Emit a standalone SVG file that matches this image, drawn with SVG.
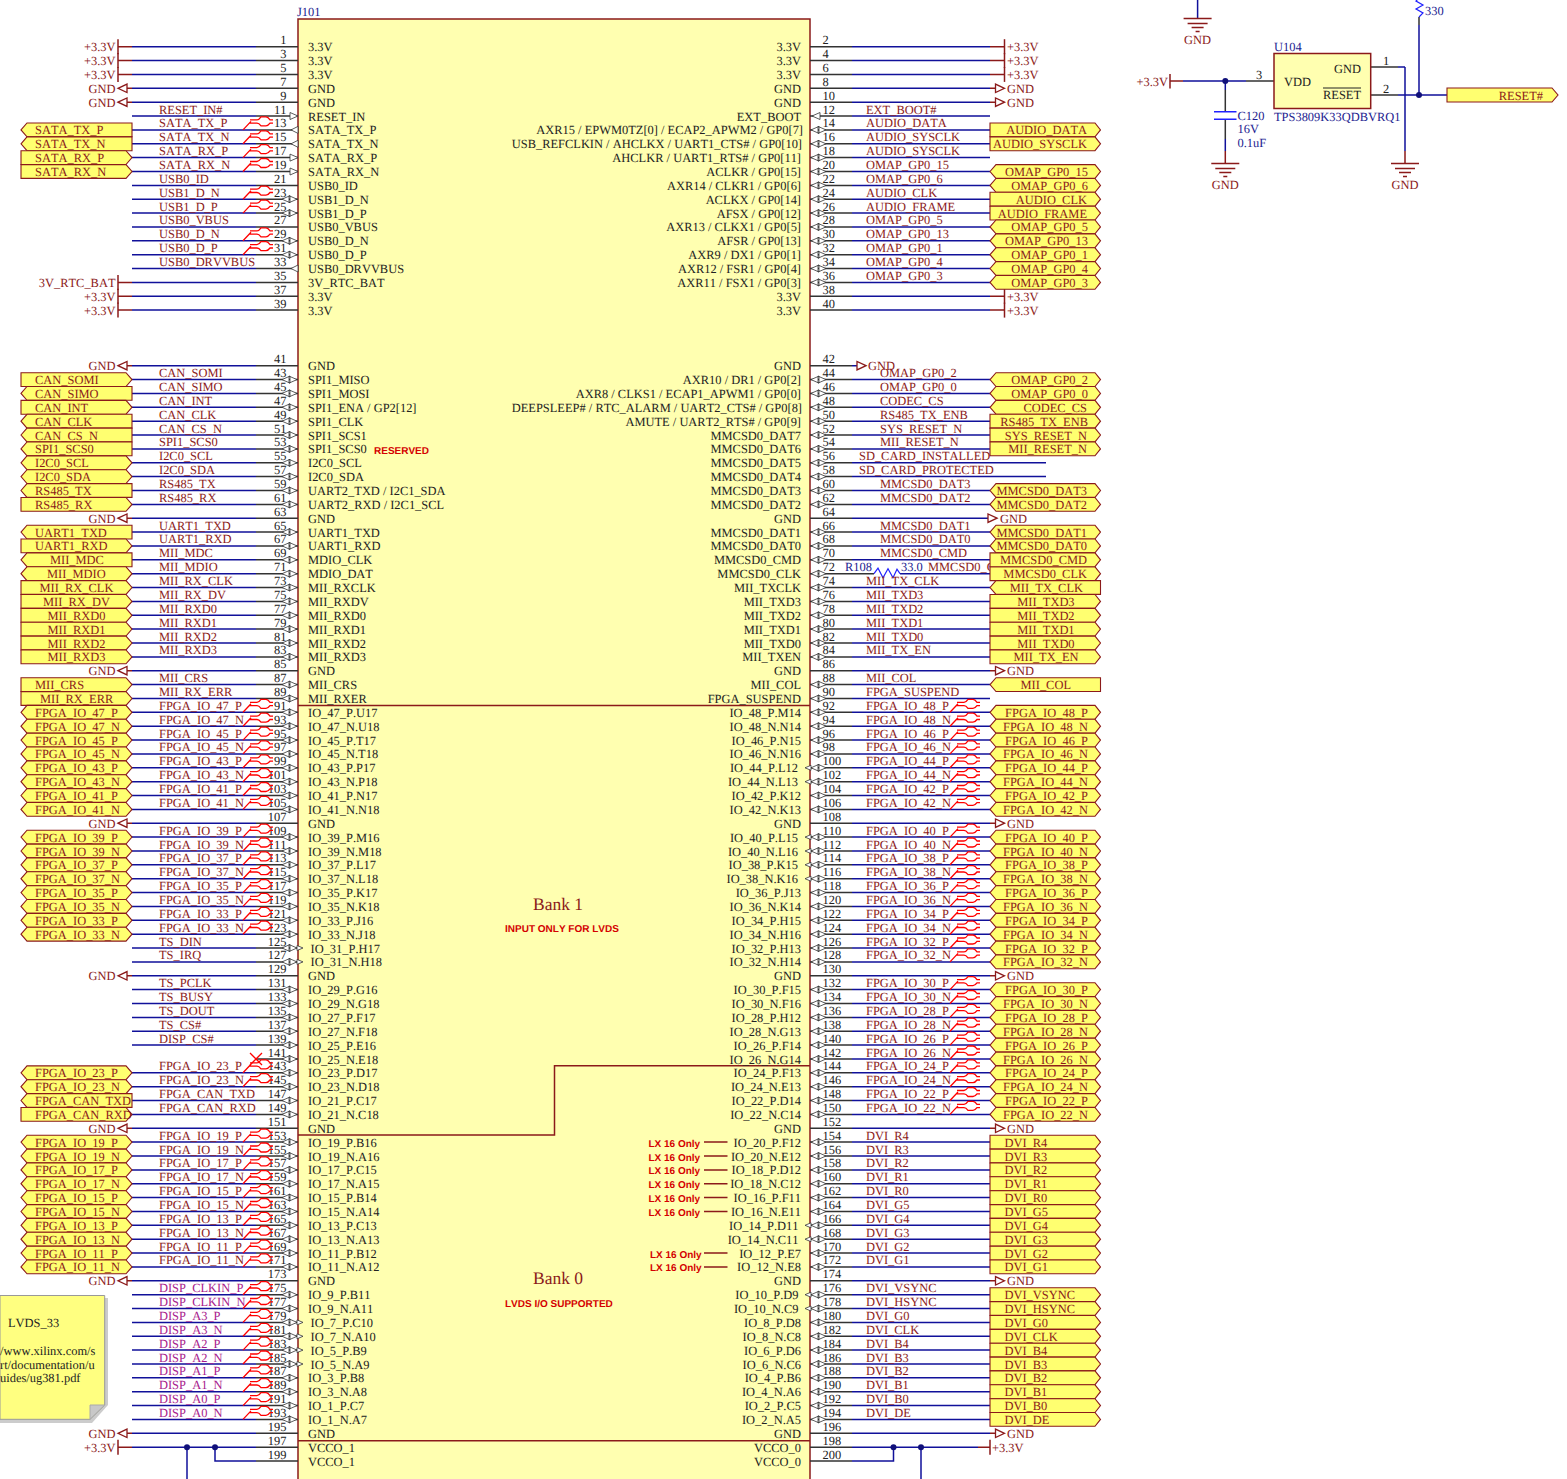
<svg xmlns="http://www.w3.org/2000/svg" width="1567" height="1479" viewBox="0 0 1567 1479">
<style>
text{font-family:"Liberation Serif","Times New Roman",serif;font-size:12.45px;fill:#222;font-kerning:none;text-rendering:geometricPrecision}
.e{text-anchor:end}
.l{fill:#8b1a1a}
.m{fill:#8b1a1a;text-anchor:end}
.k{fill:#a8198c}
.n{fill:#1c1c90}
.s{font-family:"Liberation Sans",Arial,sans-serif;font-weight:bold;font-size:10px;fill:#d40000}
.w{fill:none;stroke:#10109a;stroke-width:1.5}
.t{fill:none;stroke:#333;stroke-width:1.5}
.r{fill:none;stroke:#8b1a1a;stroke-width:1.5}
.f{fill:#ffff70;stroke:#8b1a1a;stroke-width:1.1}
.z{fill:#fff;stroke:#333;stroke-width:.8}
.y{fill:#fff;stroke:#8b1a1a;stroke-width:1.3}
.x{fill:none;stroke:#ff0000;stroke-width:1.3}
.j{fill:#10107a}
</style>
<defs>
<polygon id="a" class="f" points="21,-4.5 27,-11.4 132,-11.4 132,2.4 27,2.4"/>
<polygon id="b" class="f" points="21,-11.4 126,-11.4 132,-4.5 126,2.4 21,2.4"/>
<polygon id="h" class="f" points="21,-4.5 27,-11.4 126,-11.4 132,-4.5 126,2.4 27,2.4"/>
<polygon id="A" class="f" points="990,-4.5 996,-11.4 1100.5,-11.4 1100.5,2.4 996,2.4"/>
<polygon id="B" class="f" points="990,-11.4 1095,-11.4 1100.5,-4.5 1095,2.4 990,2.4"/>
<polygon id="H" class="f" points="990,-4.5 996,-11.4 1095,-11.4 1100.5,-4.5 1095,2.4 996,2.4"/>
<path id="c" class="z" d="M282-4.5L290-8V-1ZM297-4.5L289-8V-1Z"/>
<path id="i" class="z" d="M298-4.5L290-8V-1Z"/>
<path id="o" class="z" d="M291-4.5L298-8V-1Z"/>
<path id="C" class="z" d="M811-4.5L819-8V-1ZM826-4.5L818-8V-1Z"/>
<path id="O" class="z" d="M812-4.5L820-8V-1Z"/>
<path id="q" class="z" d="M303-4.5L297-7V-2Z"/>
<path id="u" class="z" d="M805-4.5L811-7V-2Z"/>
<path id="d" class="x" d="M243-4.5L251-13M250-14.5H257Q259-14.5 261-17.5H266Q268-17.5 270-14.5H273M249-11.2H257Q259-11.2 261-8.5H266Q268-8.5 270-11.2H273"/>
<path id="v" class="r" d="M118-12V3"/>
<polygon id="g" class="y" points="118,-4.5 127,-8.7 127,-.3"/>
<polygon id="G" class="y" points="1004.5,-4.5 995.5,-8.7 995.5,-.3"/>
<path id="E" class="r" d="M-14 0H14M-10 5H10M-6 9H6M-2 13H2"/>
</defs>
<g id="J101-body">
<rect x="298" y="19" width="512" height="1470" fill="#ffffb0" stroke="#8b1a1a" stroke-width="1.5"/>
<path class="r" d="M298 705.4H810M298 1135H554.5V1065.7H810M298 1440.7H810"/>
<text class="n" x="297" y="16">J101</text>
<text class="l" x="533" y="910" style="font-size:17.5px">Bank 1</text>
<text class="s" x="505" y="932">INPUT ONLY FOR LVDS</text>
<text class="l" x="533" y="1284" style="font-size:17.5px">Bank 0</text>
<text class="s" x="505" y="1307">LVDS I/O SUPPORTED</text>
<text class="s" x="374" y="454">RESERVED</text>
</g>
<g id="connectors">
<path class="t" d="M256 46.7H298M256 60.6H298M256 74.4H298M256 88.3H298M256 102.2H298M256 116H298M256 129.9H298M256 143.8H298M256 157.6H298M256 171.5H298M256 185.4H298M256 199.2H298M256 213.1H298M256 226.9H298M256 240.8H298M256 254.7H298M256 268.5H298M256 282.4H298M256 296.3H298M256 310.1H298M256 365.7H298M256 379.6H298M256 393.4H298M256 407.3H298M256 421.2H298M256 435H298M256 448.9H298M256 462.8H298M256 476.6H298M256 490.5H298M256 504.4H298M256 518.2H298M256 532.1H298M256 545.9H298M256 559.8H298M256 573.7H298M256 587.5H298M256 601.4H298M256 615.3H298M256 629.1H298M256 643H298M256 656.9H298M256 670.7H298M256 684.6H298M256 698.5H298M256 712.3H298M256 726.2H298M256 740.1H298M256 753.9H298M256 767.8H298M256 781.7H298M256 795.5H298M256 809.4H298M256 823.2H298M256 837.1H298M256 851H298M256 864.8H298M256 878.7H298M256 892.6H298M256 906.4H298M256 920.3H298M256 934.2H298M256 948H298M256 961.9H298M256 975.8H298M256 989.6H298M256 1003.5H298M256 1017.4H298M256 1031.2H298M256 1045.1H298M256 1059H298M256 1072.8H298M256 1086.7H298M256 1100.5H298M256 1114.4H298M256 1128.3H298M256 1142.1H298M256 1156H298M256 1169.9H298M256 1183.7H298M256 1197.6H298M256 1211.5H298M256 1225.3H298M256 1239.2H298M256 1253.1H298M256 1266.9H298M256 1280.8H298M256 1294.7H298M256 1308.5H298M256 1322.4H298M256 1336.3H298M256 1350.1H298M256 1364H298M256 1377.8H298M256 1391.7H298M256 1405.6H298M256 1419.4H298M256 1433.3H298M256 1447.2H298M256 1461H298"/>
<path class="w" d="M132 46.7H256M132 60.6H256M132 74.4H256M132 88.3H256M132 102.2H256M132 116H256M132 129.9H256M132 143.8H256M132 157.6H256M132 171.5H256M132 185.4H256M132 199.2H256M132 213.1H256M132 226.9H256M132 240.8H256M132 254.7H256M132 268.5H256M132 282.4H256M132 296.3H256M132 310.1H256M132 365.7H256M132 379.6H256M132 393.4H256M132 407.3H256M132 421.2H256M132 435H256M132 448.9H256M132 462.8H256M132 476.6H256M132 490.5H256M132 504.4H256M132 518.2H256M132 532.1H256M132 545.9H256M132 559.8H256M132 573.7H256M132 587.5H256M132 601.4H256M132 615.3H256M132 629.1H256M132 643H256M132 656.9H256M132 670.7H256M132 684.6H256M132 698.5H256M132 712.3H256M132 726.2H256M132 740.1H256M132 753.9H256M132 767.8H256M132 781.7H256M132 795.5H256M132 809.4H256M132 823.2H256M132 837.1H256M132 851H256M132 864.8H256M132 878.7H256M132 892.6H256M132 906.4H256M132 920.3H256M132 934.2H256M132 948H256M132 961.9H256M132 975.8H256M132 989.6H256M132 1003.5H256M132 1017.4H256M132 1031.2H256M132 1045.1H256M132 1072.8H256M132 1086.7H256M132 1100.5H256M132 1114.4H256M132 1128.3H256M132 1142.1H256M132 1156H256M132 1169.9H256M132 1183.7H256M132 1197.6H256M132 1211.5H256M132 1225.3H256M132 1239.2H256M132 1253.1H256M132 1266.9H256M132 1280.8H256M132 1294.7H256M132 1308.5H256M132 1322.4H256M132 1336.3H256M132 1350.1H256M132 1364H256M132 1377.8H256M132 1391.7H256M132 1405.6H256M132 1419.4H256M132 1433.3H256M132 1447.2H256M215 1447.2V1461H256M187 1447.2V1479"/>
<path class="t" d="M810 46.7H852M810 60.6H852M810 74.4H852M810 88.3H852M810 102.2H852M810 116H852M810 129.9H852M810 143.8H852M810 157.6H852M810 171.5H852M810 185.4H852M810 199.2H852M810 213.1H852M810 226.9H852M810 240.8H852M810 254.7H852M810 268.5H852M810 282.4H852M810 296.3H852M810 310.1H852M810 365.7H852M810 379.6H852M810 393.4H852M810 407.3H852M810 421.2H852M810 435H852M810 448.9H852M810 462.8H852M810 476.6H852M810 490.5H852M810 504.4H852M810 518.2H852M810 532.1H852M810 545.9H852M810 559.8H852M810 573.7H874M810 587.5H852M810 601.4H852M810 615.3H852M810 629.1H852M810 643H852M810 656.9H852M810 670.7H852M810 684.6H852M810 698.5H852M810 712.3H852M810 726.2H852M810 740.1H852M810 753.9H852M810 767.8H852M810 781.7H852M810 795.5H852M810 809.4H852M810 823.2H852M810 837.1H852M810 851H852M810 864.8H852M810 878.7H852M810 892.6H852M810 906.4H852M810 920.3H852M810 934.2H852M810 948H852M810 961.9H852M810 975.8H852M810 989.6H852M810 1003.5H852M810 1017.4H852M810 1031.2H852M810 1045.1H852M810 1059H852M810 1072.8H852M810 1086.7H852M810 1100.5H852M810 1114.4H852M810 1128.3H852M810 1142.1H852M810 1156H852M810 1169.9H852M810 1183.7H852M810 1197.6H852M810 1211.5H852M810 1225.3H852M810 1239.2H852M810 1253.1H852M810 1266.9H852M810 1280.8H852M810 1294.7H852M810 1308.5H852M810 1322.4H852M810 1336.3H852M810 1350.1H852M810 1364H852M810 1377.8H852M810 1391.7H852M810 1405.6H852M810 1419.4H852M810 1433.3H852M810 1447.2H852M810 1461H852"/>
<path class="w" d="M852 46.7H990M852 60.6H990M852 74.4H990M852 88.3H990M852 102.2H990M852 116H990M852 129.9H990M852 143.8H990M852 157.6H990M852 171.5H990M852 185.4H990M852 199.2H990M852 213.1H990M852 226.9H990M852 240.8H990M852 254.7H990M852 268.5H990M852 282.4H990M852 296.3H990M852 310.1H990M852 365.7H857M852 379.6H990M852 393.4H990M852 407.3H990M852 421.2H990M852 435H990M852 448.9H990M852 462.8H1046M852 476.6H1046M852 490.5H990M852 504.4H990M852 518.2H989M852 532.1H990M852 545.9H990M852 559.8H990M900 573.7H990M852 587.5H990M852 601.4H990M852 615.3H990M852 629.1H990M852 643H990M852 656.9H990M852 670.7H990M852 684.6H990M852 698.5H990M852 712.3H990M852 726.2H990M852 740.1H990M852 753.9H990M852 767.8H990M852 781.7H990M852 795.5H990M852 809.4H990M852 823.2H990M852 837.1H990M852 851H990M852 864.8H990M852 878.7H990M852 892.6H990M852 906.4H990M852 920.3H990M852 934.2H990M852 948H990M852 961.9H990M852 975.8H990M852 989.6H990M852 1003.5H990M852 1017.4H990M852 1031.2H990M852 1045.1H990M852 1059H990M852 1072.8H990M852 1086.7H990M852 1100.5H990M852 1114.4H990M852 1128.3H990M852 1142.1H990M852 1156H990M852 1169.9H990M852 1183.7H990M852 1197.6H990M852 1211.5H990M852 1225.3H990M852 1239.2H990M852 1253.1H990M852 1266.9H990M852 1280.8H990M852 1294.7H990M852 1308.5H990M852 1322.4H990M852 1336.3H990M852 1350.1H990M852 1364H990M852 1377.8H990M852 1391.7H990M852 1405.6H990M852 1419.4H990M852 1433.3H990M852 1447.2H978M852 1461H893.5V1447.2M921 1447.2V1479"/>
<path class="r" d="M118 46.7H132M118 60.6H132M118 74.4H132M118 282.4H132M118 296.3H132M118 310.1H132M118 1447.2H132M127 88.3H132M127 102.2H132M127 365.7H132M127 518.2H132M127 670.7H132M127 823.2H132M127 975.8H132M127 1128.3H132M127 1280.8H132M127 1433.3H132M990 46.7H1004.5M990 60.6H1004.5M990 74.4H1004.5M990 296.3H1004.5M990 310.1H1004.5M990 88.3H995.5M990 102.2H995.5M990 670.7H995.5M990 823.2H995.5M990 975.8H995.5M990 1128.3H995.5M990 1280.8H995.5M990 1433.3H995.5M978 1447.2H990"/>
<circle class="j" cx="187" cy="1447.2" r="3"/><circle class="j" cx="215" cy="1447.2" r="3"/><circle class="j" cx="893.5" cy="1447.2" r="3"/><circle class="j" cx="921" cy="1447.2" r="3"/>
<path class="w" d="M1183 81H1246M1225.3 81V90M1225.3 139V151M1405 67V151M1398 67H1405M1398 95H1447M1419 95V25M1197.6 0V18"/>
<path class="t" d="M1246 81H1274M1225.3 90V112M1225.3 119V139M1371 67H1398M1371 95H1398M1419 25V17"/>
<path class="r" d="M1170 81H1183M1225.3 151V163M1405 151V163"/>
<circle class="j" cx="1225.3" cy="81" r="3"/><circle class="j" cx="1419" cy="95" r="3"/>
</g>
<g id="J101">
<g transform="translate(0 51.2)"><text class="e" x="286.5" y="-7">1</text><text x="308">3.3V</text><text x="822.5" y="-7">2</text><text class="e" x="801">3.3V</text></g>
<g transform="translate(0 65.1)"><text class="e" x="286.5" y="-7">3</text><text x="308">3.3V</text><text x="822.5" y="-7">4</text><text class="e" x="801">3.3V</text></g>
<g transform="translate(0 78.9)"><text class="e" x="286.5" y="-7">5</text><text x="308">3.3V</text><text x="822.5" y="-7">6</text><text class="e" x="801">3.3V</text></g>
<g transform="translate(0 92.8)"><text class="e" x="286.5" y="-7">7</text><text x="308">GND</text><text x="822.5" y="-7">8</text><text class="e" x="801">GND</text></g>
<g transform="translate(0 106.7)"><text class="e" x="286.5" y="-7">9</text><text x="308">GND</text><text x="822.5" y="-7">10</text><text class="e" x="801">GND</text></g>
<g transform="translate(0 120.5)"><use href="#i"/><text class="e" x="286.5" y="-7">11</text><text x="308">RESET_IN</text><use href="#O"/><text x="822.5" y="-7">12</text><text class="e" x="801">EXT_BOOT</text></g>
<g transform="translate(0 134.4)"><use href="#o"/><text class="e" x="286.5" y="-7">13</text><text x="308">SATA_TX_P</text><use href="#C"/><text x="822.5" y="-7">14</text><text class="e" x="803">AXR15 / EPWM0TZ[0] / ECAP2_APWM2 / GP0[7]</text></g>
<g transform="translate(0 148.3)"><use href="#o"/><text class="e" x="286.5" y="-7">15</text><text x="308">SATA_TX_N</text><use href="#C"/><text x="822.5" y="-7">16</text><text class="e" x="802">USB_REFCLKIN / AHCLKX / UART1_CTS# / GP0[10]</text></g>
<g transform="translate(0 162.1)"><use href="#i"/><text class="e" x="286.5" y="-7">17</text><text x="308">SATA_RX_P</text><use href="#C"/><text x="822.5" y="-7">18</text><text class="e" x="801">AHCLKR / UART1_RTS# / GP0[11]</text></g>
<g transform="translate(0 176)"><use href="#i"/><text class="e" x="286.5" y="-7">19</text><text x="308">SATA_RX_N</text><use href="#C"/><text x="822.5" y="-7">20</text><text class="e" x="801">ACLKR / GP0[15]</text></g>
<g transform="translate(0 189.9)"><text class="e" x="286.5" y="-7">21</text><text x="308">USB0_ID</text><use href="#C"/><text x="822.5" y="-7">22</text><text class="e" x="801">AXR14 / CLKR1 / GP0[6]</text></g>
<g transform="translate(0 203.7)"><use href="#c"/><text class="e" x="286.5" y="-7">23</text><text x="308">USB1_D_N</text><use href="#C"/><text x="822.5" y="-7">24</text><text class="e" x="801">ACLKX / GP0[14]</text></g>
<g transform="translate(0 217.6)"><use href="#c"/><text class="e" x="286.5" y="-7">25</text><text x="308">USB1_D_P</text><use href="#C"/><text x="822.5" y="-7">26</text><text class="e" x="801">AFSX / GP0[12]</text></g>
<g transform="translate(0 231.4)"><text class="e" x="286.5" y="-7">27</text><text x="308">USB0_VBUS</text><use href="#C"/><text x="822.5" y="-7">28</text><text class="e" x="801">AXR13 / CLKX1 / GP0[5]</text></g>
<g transform="translate(0 245.3)"><use href="#c"/><text class="e" x="286.5" y="-7">29</text><text x="308">USB0_D_N</text><use href="#C"/><text x="822.5" y="-7">30</text><text class="e" x="801">AFSR / GP0[13]</text></g>
<g transform="translate(0 259.2)"><use href="#c"/><text class="e" x="286.5" y="-7">31</text><text x="308">USB0_D_P</text><use href="#C"/><text x="822.5" y="-7">32</text><text class="e" x="801">AXR9 / DX1 / GP0[1]</text></g>
<g transform="translate(0 273)"><use href="#o"/><text class="e" x="286.5" y="-7">33</text><text x="308">USB0_DRVVBUS</text><use href="#C"/><text x="822.5" y="-7">34</text><text class="e" x="801">AXR12 / FSR1 / GP0[4]</text></g>
<g transform="translate(0 286.9)"><text class="e" x="286.5" y="-7">35</text><text x="308">3V_RTC_BAT</text><use href="#C"/><text x="822.5" y="-7">36</text><text class="e" x="801">AXR11 / FSX1 / GP0[3]</text></g>
<g transform="translate(0 300.8)"><text class="e" x="286.5" y="-7">37</text><text x="308">3.3V</text><text x="822.5" y="-7">38</text><text class="e" x="801">3.3V</text></g>
<g transform="translate(0 314.6)"><text class="e" x="286.5" y="-7">39</text><text x="308">3.3V</text><text x="822.5" y="-7">40</text><text class="e" x="801">3.3V</text></g>
<g transform="translate(0 370.2)"><text class="e" x="286.5" y="-7">41</text><text x="308">GND</text><text x="822.5" y="-7">42</text><text class="e" x="801">GND</text></g>
<g transform="translate(0 384.1)"><use href="#c"/><text class="e" x="286.5" y="-7">43</text><text x="308">SPI1_MISO</text><use href="#C"/><text x="822.5" y="-7">44</text><text class="e" x="801">AXR10 / DR1 / GP0[2]</text></g>
<g transform="translate(0 397.9)"><use href="#c"/><text class="e" x="286.5" y="-7">45</text><text x="308">SPI1_MOSI</text><use href="#C"/><text x="822.5" y="-7">46</text><text class="e" x="801">AXR8 / CLKS1 / ECAP1_APWM1 / GP0[0]</text></g>
<g transform="translate(0 411.8)"><use href="#c"/><text class="e" x="286.5" y="-7">47</text><text x="308">SPI1_ENA / GP2[12]</text><use href="#C"/><text x="822.5" y="-7">48</text><text class="e" x="802">DEEPSLEEP# / RTC_ALARM / UART2_CTS# / GP0[8]</text></g>
<g transform="translate(0 425.7)"><use href="#c"/><text class="e" x="286.5" y="-7">49</text><text x="308">SPI1_CLK</text><use href="#C"/><text x="822.5" y="-7">50</text><text class="e" x="801">AMUTE / UART2_RTS# / GP0[9]</text></g>
<g transform="translate(0 439.5)"><use href="#c"/><text class="e" x="286.5" y="-7">51</text><text x="308">SPI1_SCS1</text><use href="#C"/><text x="822.5" y="-7">52</text><text class="e" x="801">MMCSD0_DAT7</text></g>
<g transform="translate(0 453.4)"><use href="#c"/><text class="e" x="286.5" y="-7">53</text><text x="308">SPI1_SCS0</text><use href="#C"/><text x="822.5" y="-7">54</text><text class="e" x="801">MMCSD0_DAT6</text></g>
<g transform="translate(0 467.3)"><use href="#c"/><text class="e" x="286.5" y="-7">55</text><text x="308">I2C0_SCL</text><use href="#C"/><text x="822.5" y="-7">56</text><text class="e" x="801">MMCSD0_DAT5</text></g>
<g transform="translate(0 481.1)"><use href="#c"/><text class="e" x="286.5" y="-7">57</text><text x="308">I2C0_SDA</text><use href="#C"/><text x="822.5" y="-7">58</text><text class="e" x="801">MMCSD0_DAT4</text></g>
<g transform="translate(0 495)"><use href="#c"/><text class="e" x="286.5" y="-7">59</text><text x="308">UART2_TXD / I2C1_SDA</text><use href="#C"/><text x="822.5" y="-7">60</text><text class="e" x="801">MMCSD0_DAT3</text></g>
<g transform="translate(0 508.9)"><use href="#c"/><text class="e" x="286.5" y="-7">61</text><text x="308">UART2_RXD / I2C1_SCL</text><use href="#C"/><text x="822.5" y="-7">62</text><text class="e" x="801">MMCSD0_DAT2</text></g>
<g transform="translate(0 522.7)"><text class="e" x="286.5" y="-7">63</text><text x="308">GND</text><text x="822.5" y="-7">64</text><text class="e" x="801">GND</text></g>
<g transform="translate(0 536.6)"><use href="#c"/><text class="e" x="286.5" y="-7">65</text><text x="308">UART1_TXD</text><use href="#C"/><text x="822.5" y="-7">66</text><text class="e" x="801">MMCSD0_DAT1</text></g>
<g transform="translate(0 550.4)"><use href="#c"/><text class="e" x="286.5" y="-7">67</text><text x="308">UART1_RXD</text><use href="#C"/><text x="822.5" y="-7">68</text><text class="e" x="801">MMCSD0_DAT0</text></g>
<g transform="translate(0 564.3)"><use href="#c"/><text class="e" x="286.5" y="-7">69</text><text x="308">MDIO_CLK</text><use href="#C"/><text x="822.5" y="-7">70</text><text class="e" x="801">MMCSD0_CMD</text></g>
<g transform="translate(0 578.2)"><use href="#c"/><text class="e" x="286.5" y="-7">71</text><text x="308">MDIO_DAT</text><use href="#C"/><text x="822.5" y="-7">72</text><text class="e" x="801">MMCSD0_CLK</text></g>
<g transform="translate(0 592)"><use href="#c"/><text class="e" x="286.5" y="-7">73</text><text x="308">MII_RXCLK</text><use href="#C"/><text x="822.5" y="-7">74</text><text class="e" x="801">MII_TXCLK</text></g>
<g transform="translate(0 605.9)"><use href="#c"/><text class="e" x="286.5" y="-7">75</text><text x="308">MII_RXDV</text><use href="#C"/><text x="822.5" y="-7">76</text><text class="e" x="801">MII_TXD3</text></g>
<g transform="translate(0 619.8)"><use href="#c"/><text class="e" x="286.5" y="-7">77</text><text x="308">MII_RXD0</text><use href="#C"/><text x="822.5" y="-7">78</text><text class="e" x="801">MII_TXD2</text></g>
<g transform="translate(0 633.6)"><use href="#c"/><text class="e" x="286.5" y="-7">79</text><text x="308">MII_RXD1</text><use href="#C"/><text x="822.5" y="-7">80</text><text class="e" x="801">MII_TXD1</text></g>
<g transform="translate(0 647.5)"><use href="#c"/><text class="e" x="286.5" y="-7">81</text><text x="308">MII_RXD2</text><use href="#C"/><text x="822.5" y="-7">82</text><text class="e" x="801">MII_TXD0</text></g>
<g transform="translate(0 661.4)"><use href="#c"/><text class="e" x="286.5" y="-7">83</text><text x="308">MII_RXD3</text><use href="#C"/><text x="822.5" y="-7">84</text><text class="e" x="801">MII_TXEN</text></g>
<g transform="translate(0 675.2)"><text class="e" x="286.5" y="-7">85</text><text x="308">GND</text><text x="822.5" y="-7">86</text><text class="e" x="801">GND</text></g>
<g transform="translate(0 689.1)"><use href="#c"/><text class="e" x="286.5" y="-7">87</text><text x="308">MII_CRS</text><use href="#C"/><text x="822.5" y="-7">88</text><text class="e" x="801">MII_COL</text></g>
<g transform="translate(0 703)"><use href="#c"/><text class="e" x="286.5" y="-7">89</text><text x="308">MII_RXER</text><use href="#C"/><text x="822.5" y="-7">90</text><text class="e" x="801">FPGA_SUSPEND</text></g>
<g transform="translate(0 716.8)"><use href="#c"/><text class="e" x="286.5" y="-7">91</text><text x="308">IO_47_P.U17</text><use href="#C"/><text x="822.5" y="-7">92</text><text class="e" x="801">IO_48_P.M14</text></g>
<g transform="translate(0 730.7)"><use href="#c"/><text class="e" x="286.5" y="-7">93</text><text x="308">IO_47_N.U18</text><use href="#C"/><text x="822.5" y="-7">94</text><text class="e" x="801">IO_48_N.N14</text></g>
<g transform="translate(0 744.6)"><use href="#c"/><text class="e" x="286.5" y="-7">95</text><text x="308">IO_45_P.T17</text><use href="#C"/><text x="822.5" y="-7">96</text><text class="e" x="801">IO_46_P.N15</text></g>
<g transform="translate(0 758.4)"><use href="#c"/><text class="e" x="286.5" y="-7">97</text><text x="308">IO_45_N.T18</text><use href="#C"/><text x="822.5" y="-7">98</text><text class="e" x="801">IO_46_N.N16</text></g>
<g transform="translate(0 772.3)"><use href="#c"/><text class="e" x="286.5" y="-7">99</text><text x="308">IO_43_P.P17</text><use href="#C"/><use href="#u"/><text x="822.5" y="-7">100</text><text class="e" x="798">IO_44_P.L12</text></g>
<g transform="translate(0 786.2)"><use href="#c"/><text class="e" x="286.5" y="-7">101</text><text x="308">IO_43_N.P18</text><use href="#C"/><use href="#u"/><text x="822.5" y="-7">102</text><text class="e" x="798">IO_44_N.L13</text></g>
<g transform="translate(0 800)"><use href="#c"/><text class="e" x="286.5" y="-7">103</text><text x="308">IO_41_P.N17</text><use href="#C"/><text x="822.5" y="-7">104</text><text class="e" x="801">IO_42_P.K12</text></g>
<g transform="translate(0 813.9)"><use href="#c"/><text class="e" x="286.5" y="-7">105</text><text x="308">IO_41_N.N18</text><use href="#C"/><text x="822.5" y="-7">106</text><text class="e" x="801">IO_42_N.K13</text></g>
<g transform="translate(0 827.7)"><text class="e" x="286.5" y="-7">107</text><text x="308">GND</text><text x="822.5" y="-7">108</text><text class="e" x="801">GND</text></g>
<g transform="translate(0 841.6)"><use href="#c"/><text class="e" x="286.5" y="-7">109</text><text x="308">IO_39_P.M16</text><use href="#C"/><use href="#u"/><text x="822.5" y="-7">110</text><text class="e" x="798">IO_40_P.L15</text></g>
<g transform="translate(0 855.5)"><use href="#c"/><text class="e" x="286.5" y="-7">111</text><text x="308">IO_39_N.M18</text><use href="#C"/><use href="#u"/><text x="822.5" y="-7">112</text><text class="e" x="798">IO_40_N.L16</text></g>
<g transform="translate(0 869.3)"><use href="#c"/><text class="e" x="286.5" y="-7">113</text><text x="308">IO_37_P.L17</text><use href="#C"/><use href="#u"/><text x="822.5" y="-7">114</text><text class="e" x="798">IO_38_P.K15</text></g>
<g transform="translate(0 883.2)"><use href="#c"/><text class="e" x="286.5" y="-7">115</text><text x="308">IO_37_N.L18</text><use href="#C"/><use href="#u"/><text x="822.5" y="-7">116</text><text class="e" x="798">IO_38_N.K16</text></g>
<g transform="translate(0 897.1)"><use href="#c"/><text class="e" x="286.5" y="-7">117</text><text x="308">IO_35_P.K17</text><use href="#C"/><text x="822.5" y="-7">118</text><text class="e" x="801">IO_36_P.J13</text></g>
<g transform="translate(0 910.9)"><use href="#c"/><text class="e" x="286.5" y="-7">119</text><text x="308">IO_35_N.K18</text><use href="#C"/><text x="822.5" y="-7">120</text><text class="e" x="801">IO_36_N.K14</text></g>
<g transform="translate(0 924.8)"><use href="#c"/><text class="e" x="286.5" y="-7">121</text><text x="308">IO_33_P.J16</text><use href="#C"/><text x="822.5" y="-7">122</text><text class="e" x="801">IO_34_P.H15</text></g>
<g transform="translate(0 938.7)"><use href="#c"/><text class="e" x="286.5" y="-7">123</text><text x="308">IO_33_N.J18</text><use href="#C"/><text x="822.5" y="-7">124</text><text class="e" x="801">IO_34_N.H16</text></g>
<g transform="translate(0 952.5)"><use href="#c"/><use href="#q"/><text class="e" x="286.5" y="-7">125</text><text x="310.5">IO_31_P.H17</text><use href="#C"/><text x="822.5" y="-7">126</text><text class="e" x="801">IO_32_P.H13</text></g>
<g transform="translate(0 966.4)"><use href="#c"/><use href="#q"/><text class="e" x="286.5" y="-7">127</text><text x="310.5">IO_31_N.H18</text><use href="#C"/><text x="822.5" y="-7">128</text><text class="e" x="801">IO_32_N.H14</text></g>
<g transform="translate(0 980.3)"><text class="e" x="286.5" y="-7">129</text><text x="308">GND</text><text x="822.5" y="-7">130</text><text class="e" x="801">GND</text></g>
<g transform="translate(0 994.1)"><use href="#c"/><text class="e" x="286.5" y="-7">131</text><text x="308">IO_29_P.G16</text><use href="#C"/><text x="822.5" y="-7">132</text><text class="e" x="801">IO_30_P.F15</text></g>
<g transform="translate(0 1008)"><use href="#c"/><text class="e" x="286.5" y="-7">133</text><text x="308">IO_29_N.G18</text><use href="#C"/><text x="822.5" y="-7">134</text><text class="e" x="801">IO_30_N.F16</text></g>
<g transform="translate(0 1021.9)"><use href="#c"/><text class="e" x="286.5" y="-7">135</text><text x="308">IO_27_P.F17</text><use href="#C"/><text x="822.5" y="-7">136</text><text class="e" x="801">IO_28_P.H12</text></g>
<g transform="translate(0 1035.7)"><use href="#c"/><text class="e" x="286.5" y="-7">137</text><text x="308">IO_27_N.F18</text><use href="#C"/><text x="822.5" y="-7">138</text><text class="e" x="801">IO_28_N.G13</text></g>
<g transform="translate(0 1049.6)"><use href="#c"/><text class="e" x="286.5" y="-7">139</text><text x="308">IO_25_P.E16</text><use href="#C"/><text x="822.5" y="-7">140</text><text class="e" x="801">IO_26_P.F14</text></g>
<g transform="translate(0 1063.5)"><use href="#c"/><text class="e" x="286.5" y="-7">141</text><text x="308">IO_25_N.E18</text><use href="#C"/><text x="822.5" y="-7">142</text><text class="e" x="801">IO_26_N.G14</text></g>
<g transform="translate(0 1077.3)"><use href="#c"/><text class="e" x="286.5" y="-7">143</text><text x="308">IO_23_P.D17</text><use href="#C"/><text x="822.5" y="-7">144</text><text class="e" x="801">IO_24_P.F13</text></g>
<g transform="translate(0 1091.2)"><use href="#c"/><text class="e" x="286.5" y="-7">145</text><text x="308">IO_23_N.D18</text><use href="#C"/><text x="822.5" y="-7">146</text><text class="e" x="801">IO_24_N.E13</text></g>
<g transform="translate(0 1105)"><use href="#c"/><text class="e" x="286.5" y="-7">147</text><text x="308">IO_21_P.C17</text><use href="#C"/><text x="822.5" y="-7">148</text><text class="e" x="801">IO_22_P.D14</text></g>
<g transform="translate(0 1118.9)"><use href="#c"/><text class="e" x="286.5" y="-7">149</text><text x="308">IO_21_N.C18</text><use href="#C"/><text x="822.5" y="-7">150</text><text class="e" x="801">IO_22_N.C14</text></g>
<g transform="translate(0 1132.8)"><text class="e" x="286.5" y="-7">151</text><text x="308">GND</text><text x="822.5" y="-7">152</text><text class="e" x="801">GND</text></g>
<g transform="translate(0 1146.6)"><use href="#c"/><text class="e" x="286.5" y="-7">153</text><text x="308">IO_19_P.B16</text><use href="#C"/><text x="822.5" y="-7">154</text><text class="e" x="801">IO_20_P.F12</text></g>
<g transform="translate(0 1160.5)"><use href="#c"/><text class="e" x="286.5" y="-7">155</text><text x="308">IO_19_N.A16</text><use href="#C"/><text x="822.5" y="-7">156</text><text class="e" x="801">IO_20_N.E12</text></g>
<g transform="translate(0 1174.4)"><use href="#c"/><text class="e" x="286.5" y="-7">157</text><text x="308">IO_17_P.C15</text><use href="#C"/><text x="822.5" y="-7">158</text><text class="e" x="801">IO_18_P.D12</text></g>
<g transform="translate(0 1188.2)"><use href="#c"/><text class="e" x="286.5" y="-7">159</text><text x="308">IO_17_N.A15</text><use href="#C"/><text x="822.5" y="-7">160</text><text class="e" x="801">IO_18_N.C12</text></g>
<g transform="translate(0 1202.1)"><use href="#c"/><text class="e" x="286.5" y="-7">161</text><text x="308">IO_15_P.B14</text><use href="#C"/><text x="822.5" y="-7">162</text><text class="e" x="801">IO_16_P.F11</text></g>
<g transform="translate(0 1216)"><use href="#c"/><text class="e" x="286.5" y="-7">163</text><text x="308">IO_15_N.A14</text><use href="#C"/><text x="822.5" y="-7">164</text><text class="e" x="801">IO_16_N.E11</text></g>
<g transform="translate(0 1229.8)"><use href="#c"/><text class="e" x="286.5" y="-7">165</text><text x="308">IO_13_P.C13</text><use href="#C"/><use href="#u"/><text x="822.5" y="-7">166</text><text class="e" x="798.5">IO_14_P.D11</text></g>
<g transform="translate(0 1243.7)"><use href="#c"/><text class="e" x="286.5" y="-7">167</text><text x="308">IO_13_N.A13</text><use href="#C"/><use href="#u"/><text x="822.5" y="-7">168</text><text class="e" x="798.5">IO_14_N.C11</text></g>
<g transform="translate(0 1257.6)"><use href="#c"/><text class="e" x="286.5" y="-7">169</text><text x="308">IO_11_P.B12</text><use href="#C"/><text x="822.5" y="-7">170</text><text class="e" x="801">IO_12_P.E7</text></g>
<g transform="translate(0 1271.4)"><use href="#c"/><text class="e" x="286.5" y="-7">171</text><text x="308">IO_11_N.A12</text><use href="#C"/><text x="822.5" y="-7">172</text><text class="e" x="801">IO_12_N.E8</text></g>
<g transform="translate(0 1285.3)"><text class="e" x="286.5" y="-7">173</text><text x="308">GND</text><text x="822.5" y="-7">174</text><text class="e" x="801">GND</text></g>
<g transform="translate(0 1299.2)"><use href="#c"/><text class="e" x="286.5" y="-7">175</text><text x="308">IO_9_P.B11</text><use href="#C"/><use href="#u"/><text x="822.5" y="-7">176</text><text class="e" x="798.5">IO_10_P.D9</text></g>
<g transform="translate(0 1313)"><use href="#c"/><text class="e" x="286.5" y="-7">177</text><text x="308">IO_9_N.A11</text><use href="#C"/><use href="#u"/><text x="822.5" y="-7">178</text><text class="e" x="798.5">IO_10_N.C9</text></g>
<g transform="translate(0 1326.9)"><use href="#c"/><use href="#q"/><text class="e" x="286.5" y="-7">179</text><text x="310.5">IO_7_P.C10</text><use href="#C"/><text x="822.5" y="-7">180</text><text class="e" x="801">IO_8_P.D8</text></g>
<g transform="translate(0 1340.8)"><use href="#c"/><use href="#q"/><text class="e" x="286.5" y="-7">181</text><text x="310.5">IO_7_N.A10</text><use href="#C"/><text x="822.5" y="-7">182</text><text class="e" x="801">IO_8_N.C8</text></g>
<g transform="translate(0 1354.6)"><use href="#c"/><use href="#q"/><text class="e" x="286.5" y="-7">183</text><text x="310.5">IO_5_P.B9</text><use href="#C"/><text x="822.5" y="-7">184</text><text class="e" x="801">IO_6_P.D6</text></g>
<g transform="translate(0 1368.5)"><use href="#c"/><use href="#q"/><text class="e" x="286.5" y="-7">185</text><text x="310.5">IO_5_N.A9</text><use href="#C"/><text x="822.5" y="-7">186</text><text class="e" x="801">IO_6_N.C6</text></g>
<g transform="translate(0 1382.3)"><use href="#c"/><text class="e" x="286.5" y="-7">187</text><text x="308">IO_3_P.B8</text><use href="#C"/><text x="822.5" y="-7">188</text><text class="e" x="801">IO_4_P.B6</text></g>
<g transform="translate(0 1396.2)"><use href="#c"/><text class="e" x="286.5" y="-7">189</text><text x="308">IO_3_N.A8</text><use href="#C"/><text x="822.5" y="-7">190</text><text class="e" x="801">IO_4_N.A6</text></g>
<g transform="translate(0 1410.1)"><use href="#c"/><text class="e" x="286.5" y="-7">191</text><text x="308">IO_1_P.C7</text><use href="#C"/><text x="822.5" y="-7">192</text><text class="e" x="801">IO_2_P.C5</text></g>
<g transform="translate(0 1423.9)"><use href="#c"/><text class="e" x="286.5" y="-7">193</text><text x="308">IO_1_N.A7</text><use href="#C"/><text x="822.5" y="-7">194</text><text class="e" x="801">IO_2_N.A5</text></g>
<g transform="translate(0 1437.8)"><text class="e" x="286.5" y="-7">195</text><text x="308">GND</text><text x="822.5" y="-7">196</text><text class="e" x="801">GND</text></g>
<g transform="translate(0 1451.7)"><text class="e" x="286.5" y="-7">197</text><text x="308">VCCO_1</text><text x="822.5" y="-7">198</text><text class="e" x="801">VCCO_0</text></g>
<g transform="translate(0 1465.5)"><text class="e" x="286.5" y="-7">199</text><text x="308">VCCO_1</text><text x="822.5" y="-7">200</text><text class="e" x="801">VCCO_0</text></g>
</g>
<g id="power">
<g transform="translate(0 51.2)"><use href="#v"/><text class="m" x="115.5">+3.3V</text><use href="#v" x="886.5"/><text class="l" x="1007">+3.3V</text></g>
<g transform="translate(0 65.1)"><use href="#v"/><text class="m" x="115.5">+3.3V</text><use href="#v" x="886.5"/><text class="l" x="1007">+3.3V</text></g>
<g transform="translate(0 78.9)"><use href="#v"/><text class="m" x="115.5">+3.3V</text><use href="#v" x="886.5"/><text class="l" x="1007">+3.3V</text></g>
<g transform="translate(0 92.8)"><use href="#g"/><text class="m" x="115.5">GND</text><use href="#G"/><text class="l" x="1007">GND</text></g>
<g transform="translate(0 106.7)"><use href="#g"/><text class="m" x="115.5">GND</text><use href="#G"/><text class="l" x="1007">GND</text></g>
<g transform="translate(0 286.9)"><use href="#v"/><text class="m" x="115.5">3V_RTC_BAT</text></g>
<g transform="translate(0 300.8)"><use href="#v"/><text class="m" x="115.5">+3.3V</text><use href="#v" x="886.5"/><text class="l" x="1007">+3.3V</text></g>
<g transform="translate(0 314.6)"><use href="#v"/><text class="m" x="115.5">+3.3V</text><use href="#v" x="886.5"/><text class="l" x="1007">+3.3V</text></g>
<g transform="translate(0 370.2)"><use href="#g"/><text class="m" x="115.5">GND</text><use href="#G" x="-138.5"/><text class="l" x="868">GND</text></g>
<g transform="translate(0 522.7)"><use href="#g"/><text class="m" x="115.5">GND</text><use href="#G" x="-7.5"/><text class="l" x="1000">GND</text></g>
<g transform="translate(0 675.2)"><use href="#g"/><text class="m" x="115.5">GND</text><use href="#G"/><text class="l" x="1007">GND</text></g>
<g transform="translate(0 827.7)"><use href="#g"/><text class="m" x="115.5">GND</text><use href="#G"/><text class="l" x="1007">GND</text></g>
<g transform="translate(0 980.3)"><use href="#g"/><text class="m" x="115.5">GND</text><use href="#G"/><text class="l" x="1007">GND</text></g>
<g transform="translate(0 1132.8)"><use href="#g"/><text class="m" x="115.5">GND</text><use href="#G"/><text class="l" x="1007">GND</text></g>
<g transform="translate(0 1285.3)"><use href="#g"/><text class="m" x="115.5">GND</text><use href="#G"/><text class="l" x="1007">GND</text></g>
<g transform="translate(0 1437.8)"><use href="#g"/><text class="m" x="115.5">GND</text><use href="#G"/><text class="l" x="1007">GND</text></g>
<g transform="translate(0 1451.7)"><use href="#v"/><text class="m" x="115.5">+3.3V</text><use href="#v" x="872"/><text class="l" x="992">+3.3V</text></g>
</g>
<g id="nets-left">
<g id="RESET_IN" transform="translate(0 120.5)"><text class="l" x="159" y="-7">RESET_IN#</text></g>
<g id="SATA_TX_P" transform="translate(0 134.4)"><use href="#a"/><text class="l" x="35">SATA_TX_P</text><text class="l" x="159" y="-7">SATA_TX_P</text><use href="#d"/></g>
<g id="SATA_TX_N" transform="translate(0 148.3)"><use href="#a"/><text class="l" x="35">SATA_TX_N</text><text class="l" x="159" y="-7">SATA_TX_N</text><use href="#d"/></g>
<g id="SATA_RX_P" transform="translate(0 162.1)"><use href="#b"/><text class="l" x="35">SATA_RX_P</text><text class="l" x="159" y="-7">SATA_RX_P</text><use href="#d"/></g>
<g id="SATA_RX_N" transform="translate(0 176)"><use href="#b"/><text class="l" x="35">SATA_RX_N</text><text class="l" x="159" y="-7">SATA_RX_N</text><use href="#d"/></g>
<g id="USB0_ID" transform="translate(0 189.9)"><text class="l" x="159" y="-7">USB0_ID</text></g>
<g id="USB1_D_N" transform="translate(0 203.7)"><text class="l" x="159" y="-7">USB1_D_N</text><use href="#d"/></g>
<g id="USB1_D_P" transform="translate(0 217.6)"><text class="l" x="159" y="-7">USB1_D_P</text><use href="#d"/></g>
<g id="USB0_VBUS" transform="translate(0 231.4)"><text class="l" x="159" y="-7">USB0_VBUS</text></g>
<g id="USB0_D_N" transform="translate(0 245.3)"><text class="l" x="159" y="-7">USB0_D_N</text><use href="#d"/></g>
<g id="USB0_D_P" transform="translate(0 259.2)"><text class="l" x="159" y="-7">USB0_D_P</text><use href="#d"/></g>
<g id="USB0_DRVVBUS" transform="translate(0 273)"><text class="l" x="159" y="-7">USB0_DRVVBUS</text></g>
<g id="CAN_SOMI" transform="translate(0 384.1)"><use href="#b"/><text class="l" x="35">CAN_SOMI</text><text class="l" x="159" y="-7">CAN_SOMI</text></g>
<g id="CAN_SIMO" transform="translate(0 397.9)"><use href="#a"/><text class="l" x="35">CAN_SIMO</text><text class="l" x="159" y="-7">CAN_SIMO</text></g>
<g id="CAN_INT" transform="translate(0 411.8)"><use href="#b"/><text class="l" x="35">CAN_INT</text><text class="l" x="159" y="-7">CAN_INT</text></g>
<g id="CAN_CLK" transform="translate(0 425.7)"><use href="#a"/><text class="l" x="35">CAN_CLK</text><text class="l" x="159" y="-7">CAN_CLK</text></g>
<g id="CAN_CS_N" transform="translate(0 439.5)"><use href="#a"/><text class="l" x="35">CAN_CS_N</text><text class="l" x="159" y="-7">CAN_CS_N</text></g>
<g id="SPI1_SCS0" transform="translate(0 453.4)"><use href="#a"/><text class="l" x="35">SPI1_SCS0</text><text class="l" x="159" y="-7">SPI1_SCS0</text></g>
<g id="I2C0_SCL" transform="translate(0 467.3)"><use href="#h"/><text class="l" x="35">I2C0_SCL</text><text class="l" x="159" y="-7">I2C0_SCL</text></g>
<g id="I2C0_SDA" transform="translate(0 481.1)"><use href="#h"/><text class="l" x="35">I2C0_SDA</text><text class="l" x="159" y="-7">I2C0_SDA</text></g>
<g id="RS485_TX" transform="translate(0 495)"><use href="#a"/><text class="l" x="35">RS485_TX</text><text class="l" x="159" y="-7">RS485_TX</text></g>
<g id="RS485_RX" transform="translate(0 508.9)"><use href="#b"/><text class="l" x="35">RS485_RX</text><text class="l" x="159" y="-7">RS485_RX</text></g>
<g id="UART1_TXD" transform="translate(0 536.6)"><use href="#a"/><text class="l" x="35">UART1_TXD</text><text class="l" x="159" y="-7">UART1_TXD</text></g>
<g id="UART1_RXD" transform="translate(0 550.4)"><use href="#b"/><text class="l" x="35">UART1_RXD</text><text class="l" x="159" y="-7">UART1_RXD</text></g>
<g id="MII_MDC" transform="translate(0 564.3)"><use href="#a"/><text class="l" x="50">MII_MDC</text><text class="l" x="159" y="-7">MII_MDC</text></g>
<g id="MII_MDIO" transform="translate(0 578.2)"><use href="#h"/><text class="l" x="47">MII_MDIO</text><text class="l" x="159" y="-7">MII_MDIO</text></g>
<g id="MII_RX_CLK" transform="translate(0 592)"><use href="#b"/><text class="l" x="39.5">MII_RX_CLK</text><text class="l" x="159" y="-7">MII_RX_CLK</text></g>
<g id="MII_RX_DV" transform="translate(0 605.9)"><use href="#b"/><text class="l" x="43">MII_RX_DV</text><text class="l" x="159" y="-7">MII_RX_DV</text></g>
<g id="MII_RXD0" transform="translate(0 619.8)"><use href="#b"/><text class="l" x="47.5">MII_RXD0</text><text class="l" x="159" y="-7">MII_RXD0</text></g>
<g id="MII_RXD1" transform="translate(0 633.6)"><use href="#b"/><text class="l" x="47.5">MII_RXD1</text><text class="l" x="159" y="-7">MII_RXD1</text></g>
<g id="MII_RXD2" transform="translate(0 647.5)"><use href="#b"/><text class="l" x="47.5">MII_RXD2</text><text class="l" x="159" y="-7">MII_RXD2</text></g>
<g id="MII_RXD3" transform="translate(0 661.4)"><use href="#b"/><text class="l" x="47.5">MII_RXD3</text><text class="l" x="159" y="-7">MII_RXD3</text></g>
<g id="MII_CRS" transform="translate(0 689.1)"><use href="#b"/><text class="l" x="35">MII_CRS</text><text class="l" x="159" y="-7">MII_CRS</text></g>
<g id="MII_RX_ERR" transform="translate(0 703)"><use href="#b"/><text class="l" x="40">MII_RX_ERR</text><text class="l" x="159" y="-7">MII_RX_ERR</text></g>
<g id="FPGA_IO_47_P" transform="translate(0 716.8)"><use href="#h"/><text class="l" x="35">FPGA_IO_47_P</text><text class="l" x="159" y="-7">FPGA_IO_47_P</text><use href="#d"/></g>
<g id="FPGA_IO_47_N" transform="translate(0 730.7)"><use href="#h"/><text class="l" x="35">FPGA_IO_47_N</text><text class="l" x="159" y="-7">FPGA_IO_47_N</text><use href="#d"/></g>
<g id="FPGA_IO_45_P" transform="translate(0 744.6)"><use href="#h"/><text class="l" x="35">FPGA_IO_45_P</text><text class="l" x="159" y="-7">FPGA_IO_45_P</text><use href="#d"/></g>
<g id="FPGA_IO_45_N" transform="translate(0 758.4)"><use href="#h"/><text class="l" x="35">FPGA_IO_45_N</text><text class="l" x="159" y="-7">FPGA_IO_45_N</text><use href="#d"/></g>
<g id="FPGA_IO_43_P" transform="translate(0 772.3)"><use href="#h"/><text class="l" x="35">FPGA_IO_43_P</text><text class="l" x="159" y="-7">FPGA_IO_43_P</text><use href="#d"/></g>
<g id="FPGA_IO_43_N" transform="translate(0 786.2)"><use href="#h"/><text class="l" x="35">FPGA_IO_43_N</text><text class="l" x="159" y="-7">FPGA_IO_43_N</text><use href="#d"/></g>
<g id="FPGA_IO_41_P" transform="translate(0 800)"><use href="#h"/><text class="l" x="35">FPGA_IO_41_P</text><text class="l" x="159" y="-7">FPGA_IO_41_P</text><use href="#d"/></g>
<g id="FPGA_IO_41_N" transform="translate(0 813.9)"><use href="#h"/><text class="l" x="35">FPGA_IO_41_N</text><text class="l" x="159" y="-7">FPGA_IO_41_N</text><use href="#d"/></g>
<g id="FPGA_IO_39_P" transform="translate(0 841.6)"><use href="#h"/><text class="l" x="35">FPGA_IO_39_P</text><text class="l" x="159" y="-7">FPGA_IO_39_P</text><use href="#d"/></g>
<g id="FPGA_IO_39_N" transform="translate(0 855.5)"><use href="#h"/><text class="l" x="35">FPGA_IO_39_N</text><text class="l" x="159" y="-7">FPGA_IO_39_N</text><use href="#d"/></g>
<g id="FPGA_IO_37_P" transform="translate(0 869.3)"><use href="#h"/><text class="l" x="35">FPGA_IO_37_P</text><text class="l" x="159" y="-7">FPGA_IO_37_P</text><use href="#d"/></g>
<g id="FPGA_IO_37_N" transform="translate(0 883.2)"><use href="#h"/><text class="l" x="35">FPGA_IO_37_N</text><text class="l" x="159" y="-7">FPGA_IO_37_N</text><use href="#d"/></g>
<g id="FPGA_IO_35_P" transform="translate(0 897.1)"><use href="#h"/><text class="l" x="35">FPGA_IO_35_P</text><text class="l" x="159" y="-7">FPGA_IO_35_P</text><use href="#d"/></g>
<g id="FPGA_IO_35_N" transform="translate(0 910.9)"><use href="#h"/><text class="l" x="35">FPGA_IO_35_N</text><text class="l" x="159" y="-7">FPGA_IO_35_N</text><use href="#d"/></g>
<g id="FPGA_IO_33_P" transform="translate(0 924.8)"><use href="#h"/><text class="l" x="35">FPGA_IO_33_P</text><text class="l" x="159" y="-7">FPGA_IO_33_P</text><use href="#d"/></g>
<g id="FPGA_IO_33_N" transform="translate(0 938.7)"><use href="#h"/><text class="l" x="35">FPGA_IO_33_N</text><text class="l" x="159" y="-7">FPGA_IO_33_N</text><use href="#d"/></g>
<g id="TS_DIN" transform="translate(0 952.5)"><text class="l" x="159" y="-7">TS_DIN</text></g>
<g id="TS_IRQ" transform="translate(0 966.4)"><text class="l" x="159" y="-7">TS_IRQ</text></g>
<g id="TS_PCLK" transform="translate(0 994.1)"><text class="l" x="159" y="-7">TS_PCLK</text></g>
<g id="TS_BUSY" transform="translate(0 1008)"><text class="l" x="159" y="-7">TS_BUSY</text></g>
<g id="TS_DOUT" transform="translate(0 1021.9)"><text class="l" x="159" y="-7">TS_DOUT</text></g>
<g id="TS_CS" transform="translate(0 1035.7)"><text class="l" x="159" y="-7">TS_CS#</text></g>
<g id="DISP_CS" transform="translate(0 1049.6)"><text class="l" x="159" y="-7">DISP_CS#</text></g>
<path id="no-erc" class="x" d="M250 1053L262 1065M250 1065L262 1053"/>
<g id="FPGA_IO_23_P" transform="translate(0 1077.3)"><use href="#h"/><text class="l" x="35">FPGA_IO_23_P</text><text class="l" x="159" y="-7">FPGA_IO_23_P</text><use href="#d"/></g>
<g id="FPGA_IO_23_N" transform="translate(0 1091.2)"><use href="#h"/><text class="l" x="35">FPGA_IO_23_N</text><text class="l" x="159" y="-7">FPGA_IO_23_N</text><use href="#d"/></g>
<g id="FPGA_CAN_TXD" transform="translate(0 1105)"><text class="l" x="159" y="-7">FPGA_CAN_TXD</text><use href="#a"/><text class="l" x="35">FPGA_CAN_TXD</text></g>
<g id="FPGA_CAN_RXD" transform="translate(0 1118.9)"><text class="l" x="159" y="-7">FPGA_CAN_RXD</text><use href="#b"/><text class="l" x="35">FPGA_CAN_RXD</text></g>
<g id="FPGA_IO_19_P" transform="translate(0 1146.6)"><use href="#h"/><text class="l" x="35">FPGA_IO_19_P</text><text class="l" x="159" y="-7">FPGA_IO_19_P</text><use href="#d"/></g>
<g id="FPGA_IO_19_N" transform="translate(0 1160.5)"><use href="#h"/><text class="l" x="35">FPGA_IO_19_N</text><text class="l" x="159" y="-7">FPGA_IO_19_N</text><use href="#d"/></g>
<g id="FPGA_IO_17_P" transform="translate(0 1174.4)"><use href="#h"/><text class="l" x="35">FPGA_IO_17_P</text><text class="l" x="159" y="-7">FPGA_IO_17_P</text><use href="#d"/></g>
<g id="FPGA_IO_17_N" transform="translate(0 1188.2)"><use href="#h"/><text class="l" x="35">FPGA_IO_17_N</text><text class="l" x="159" y="-7">FPGA_IO_17_N</text><use href="#d"/></g>
<g id="FPGA_IO_15_P" transform="translate(0 1202.1)"><use href="#h"/><text class="l" x="35">FPGA_IO_15_P</text><text class="l" x="159" y="-7">FPGA_IO_15_P</text><use href="#d"/></g>
<g id="FPGA_IO_15_N" transform="translate(0 1216)"><use href="#h"/><text class="l" x="35">FPGA_IO_15_N</text><text class="l" x="159" y="-7">FPGA_IO_15_N</text><use href="#d"/></g>
<g id="FPGA_IO_13_P" transform="translate(0 1229.8)"><use href="#h"/><text class="l" x="35">FPGA_IO_13_P</text><text class="l" x="159" y="-7">FPGA_IO_13_P</text><use href="#d"/></g>
<g id="FPGA_IO_13_N" transform="translate(0 1243.7)"><use href="#h"/><text class="l" x="35">FPGA_IO_13_N</text><text class="l" x="159" y="-7">FPGA_IO_13_N</text><use href="#d"/></g>
<g id="FPGA_IO_11_P" transform="translate(0 1257.6)"><use href="#h"/><text class="l" x="35">FPGA_IO_11_P</text><text class="l" x="159" y="-7">FPGA_IO_11_P</text><use href="#d"/></g>
<g id="FPGA_IO_11_N" transform="translate(0 1271.4)"><use href="#h"/><text class="l" x="35">FPGA_IO_11_N</text><text class="l" x="159" y="-7">FPGA_IO_11_N</text><use href="#d"/></g>
<g id="DISP_CLKIN_P" transform="translate(0 1299.2)"><text class="k" x="159" y="-7">DISP_CLKIN_P</text><use href="#d"/></g>
<g id="DISP_CLKIN_N" transform="translate(0 1313)"><text class="k" x="159" y="-7">DISP_CLKIN_N</text><use href="#d"/></g>
<g id="DISP_A3_P" transform="translate(0 1326.9)"><text class="k" x="159" y="-7">DISP_A3_P</text><use href="#d"/></g>
<g id="DISP_A3_N" transform="translate(0 1340.8)"><text class="k" x="159" y="-7">DISP_A3_N</text><use href="#d"/></g>
<g id="DISP_A2_P" transform="translate(0 1354.6)"><text class="k" x="159" y="-7">DISP_A2_P</text><use href="#d"/></g>
<g id="DISP_A2_N" transform="translate(0 1368.5)"><text class="k" x="159" y="-7">DISP_A2_N</text><use href="#d"/></g>
<g id="DISP_A1_P" transform="translate(0 1382.3)"><text class="k" x="159" y="-7">DISP_A1_P</text><use href="#d"/></g>
<g id="DISP_A1_N" transform="translate(0 1396.2)"><text class="k" x="159" y="-7">DISP_A1_N</text><use href="#d"/></g>
<g id="DISP_A0_P" transform="translate(0 1410.1)"><text class="k" x="159" y="-7">DISP_A0_P</text><use href="#d"/></g>
<g id="DISP_A0_N" transform="translate(0 1423.9)"><text class="k" x="159" y="-7">DISP_A0_N</text><use href="#d"/></g>
</g>
<g id="nets-right">
<g id="EXT_BOOT" transform="translate(0 120.5)"><text class="l" x="866" y="-7">EXT_BOOT#</text></g>
<g id="AUDIO_DATA" transform="translate(0 134.4)"><use href="#B"/><text class="m" x="1087">AUDIO_DATA</text><text class="l" x="866" y="-7">AUDIO_DATA</text></g>
<g id="AUDIO_SYSCLK" transform="translate(0 148.3)"><use href="#B"/><text class="m" x="1087">AUDIO_SYSCLK</text><text class="l" x="866" y="-7">AUDIO_SYSCLK</text></g>
<g id="AUDIO_SYSCLK2" transform="translate(0 162.1)"><text class="l" x="866" y="-7">AUDIO_SYSCLK</text></g>
<g id="OMAP_GP0_15" transform="translate(0 176)"><use href="#H"/><text class="m" x="1088">OMAP_GP0_15</text><text class="l" x="866" y="-7">OMAP_GP0_15</text></g>
<g id="OMAP_GP0_6" transform="translate(0 189.9)"><use href="#H"/><text class="m" x="1088">OMAP_GP0_6</text><text class="l" x="866" y="-7">OMAP_GP0_6</text></g>
<g id="AUDIO_CLK" transform="translate(0 203.7)"><use href="#B"/><text class="m" x="1087">AUDIO_CLK</text><text class="l" x="866" y="-7">AUDIO_CLK</text></g>
<g id="AUDIO_FRAME" transform="translate(0 217.6)"><use href="#B"/><text class="m" x="1087">AUDIO_FRAME</text><text class="l" x="866" y="-7">AUDIO_FRAME</text></g>
<g id="OMAP_GP0_5" transform="translate(0 231.4)"><use href="#H"/><text class="m" x="1088">OMAP_GP0_5</text><text class="l" x="866" y="-7">OMAP_GP0_5</text></g>
<g id="OMAP_GP0_13" transform="translate(0 245.3)"><use href="#H"/><text class="m" x="1088">OMAP_GP0_13</text><text class="l" x="866" y="-7">OMAP_GP0_13</text></g>
<g id="OMAP_GP0_1" transform="translate(0 259.2)"><use href="#H"/><text class="m" x="1088">OMAP_GP0_1</text><text class="l" x="866" y="-7">OMAP_GP0_1</text></g>
<g id="OMAP_GP0_4" transform="translate(0 273)"><use href="#H"/><text class="m" x="1088">OMAP_GP0_4</text><text class="l" x="866" y="-7">OMAP_GP0_4</text></g>
<g id="OMAP_GP0_3" transform="translate(0 286.9)"><use href="#H"/><text class="m" x="1088">OMAP_GP0_3</text><text class="l" x="866" y="-7">OMAP_GP0_3</text></g>
<g id="OMAP_GP0_2" transform="translate(0 384.1)"><use href="#H"/><text class="m" x="1088">OMAP_GP0_2</text><text class="l" x="880" y="-7">OMAP_GP0_2</text></g>
<g id="OMAP_GP0_0" transform="translate(0 397.9)"><use href="#H"/><text class="m" x="1088">OMAP_GP0_0</text><text class="l" x="880" y="-7">OMAP_GP0_0</text></g>
<g id="CODEC_CS" transform="translate(0 411.8)"><use href="#H"/><text class="m" x="1087">CODEC_CS</text><text class="l" x="880" y="-7">CODEC_CS</text></g>
<g id="RS485_TX_ENB" transform="translate(0 425.7)"><use href="#B"/><text class="m" x="1088">RS485_TX_ENB</text><text class="l" x="880" y="-7">RS485_TX_ENB</text></g>
<g id="SYS_RESET_N" transform="translate(0 439.5)"><use href="#B"/><text class="m" x="1087">SYS_RESET_N</text><text class="l" x="880" y="-7">SYS_RESET_N</text></g>
<g id="MII_RESET_N" transform="translate(0 453.4)"><use href="#B"/><text class="m" x="1087">MII_RESET_N</text><text class="l" x="880" y="-7">MII_RESET_N</text></g>
<g id="SD_CARD_INSTALLED" transform="translate(0 467.3)"><text class="l" x="859" y="-7">SD_CARD_INSTALLED</text></g>
<g id="SD_CARD_PROTECTED" transform="translate(0 481.1)"><text class="l" x="859" y="-7">SD_CARD_PROTECTED</text></g>
<g id="MMCSD0_DAT3" transform="translate(0 495)"><use href="#H"/><text class="m" x="1087">MMCSD0_DAT3</text><text class="l" x="880" y="-7">MMCSD0_DAT3</text></g>
<g id="MMCSD0_DAT2" transform="translate(0 508.9)"><use href="#H"/><text class="m" x="1087">MMCSD0_DAT2</text><text class="l" x="880" y="-7">MMCSD0_DAT2</text></g>
<g id="MMCSD0_DAT1" transform="translate(0 536.6)"><use href="#H"/><text class="m" x="1087">MMCSD0_DAT1</text><text class="l" x="880" y="-7">MMCSD0_DAT1</text></g>
<g id="MMCSD0_DAT0" transform="translate(0 550.4)"><use href="#H"/><text class="m" x="1087">MMCSD0_DAT0</text><text class="l" x="880" y="-7">MMCSD0_DAT0</text></g>
<g id="R108" transform="translate(0 578.2)"><text class="n" x="845" y="-7">R108</text><path class="w" d="M874-4.5L878-10L883-.5L888-9.5L893-.5L897-9L900-4.5" style="stroke:#2020ff;stroke-width:1.2"/><text class="n" x="901" y="-7">33.0</text></g>
<g id="MMCSD0_CLK" transform="translate(0 578.2)"><text class="l" x="928" y="-7">MMCSD0_CLK</text><use href="#B"/><text class="m" x="1087">MMCSD0_CLK</text></g>
<g id="MMCSD0_CMD" transform="translate(0 564.3)"><use href="#B"/><text class="m" x="1087">MMCSD0_CMD</text><text class="l" x="880" y="-7">MMCSD0_CMD</text></g>
<g id="MII_TX_CLK" transform="translate(0 592)"><use href="#A"/><text class="m" x="1083">MII_TX_CLK</text><text class="l" x="866" y="-7">MII_TX_CLK</text></g>
<g id="MII_TXD3" transform="translate(0 605.9)"><use href="#B"/><text class="m" x="1074.6">MII_TXD3</text><text class="l" x="866" y="-7">MII_TXD3</text></g>
<g id="MII_TXD2" transform="translate(0 619.8)"><use href="#B"/><text class="m" x="1074.6">MII_TXD2</text><text class="l" x="866" y="-7">MII_TXD2</text></g>
<g id="MII_TXD1" transform="translate(0 633.6)"><use href="#B"/><text class="m" x="1074.6">MII_TXD1</text><text class="l" x="866" y="-7">MII_TXD1</text></g>
<g id="MII_TXD0" transform="translate(0 647.5)"><use href="#B"/><text class="m" x="1074.6">MII_TXD0</text><text class="l" x="866" y="-7">MII_TXD0</text></g>
<g id="MII_TX_EN" transform="translate(0 661.4)"><use href="#B"/><text class="m" x="1078.5">MII_TX_EN</text><text class="l" x="866" y="-7">MII_TX_EN</text></g>
<g id="MII_COL" transform="translate(0 689.1)"><use href="#A"/><text class="m" x="1071">MII_COL</text><text class="l" x="866" y="-7">MII_COL</text></g>
<g id="FPGA_SUSPEND" transform="translate(0 703)"><text class="l" x="866" y="-7">FPGA_SUSPEND</text></g>
<g id="FPGA_IO_48_P" transform="translate(0 716.8)"><use href="#H"/><text class="m" x="1088">FPGA_IO_48_P</text><text class="l" x="866" y="-7">FPGA_IO_48_P</text><use href="#d" x="707"/></g>
<g id="FPGA_IO_48_N" transform="translate(0 730.7)"><use href="#H"/><text class="m" x="1088">FPGA_IO_48_N</text><text class="l" x="866" y="-7">FPGA_IO_48_N</text><use href="#d" x="707"/></g>
<g id="FPGA_IO_46_P" transform="translate(0 744.6)"><use href="#H"/><text class="m" x="1088">FPGA_IO_46_P</text><text class="l" x="866" y="-7">FPGA_IO_46_P</text><use href="#d" x="707"/></g>
<g id="FPGA_IO_46_N" transform="translate(0 758.4)"><use href="#H"/><text class="m" x="1088">FPGA_IO_46_N</text><text class="l" x="866" y="-7">FPGA_IO_46_N</text><use href="#d" x="707"/></g>
<g id="FPGA_IO_44_P" transform="translate(0 772.3)"><use href="#H"/><text class="m" x="1088">FPGA_IO_44_P</text><text class="l" x="866" y="-7">FPGA_IO_44_P</text><use href="#d" x="707"/></g>
<g id="FPGA_IO_44_N" transform="translate(0 786.2)"><use href="#H"/><text class="m" x="1088">FPGA_IO_44_N</text><text class="l" x="866" y="-7">FPGA_IO_44_N</text><use href="#d" x="707"/></g>
<g id="FPGA_IO_42_P" transform="translate(0 800)"><use href="#H"/><text class="m" x="1088">FPGA_IO_42_P</text><text class="l" x="866" y="-7">FPGA_IO_42_P</text><use href="#d" x="707"/></g>
<g id="FPGA_IO_42_N" transform="translate(0 813.9)"><use href="#H"/><text class="m" x="1088">FPGA_IO_42_N</text><text class="l" x="866" y="-7">FPGA_IO_42_N</text><use href="#d" x="707"/></g>
<g id="FPGA_IO_40_P" transform="translate(0 841.6)"><use href="#H"/><text class="m" x="1088">FPGA_IO_40_P</text><text class="l" x="866" y="-7">FPGA_IO_40_P</text><use href="#d" x="707"/></g>
<g id="FPGA_IO_40_N" transform="translate(0 855.5)"><use href="#H"/><text class="m" x="1088">FPGA_IO_40_N</text><text class="l" x="866" y="-7">FPGA_IO_40_N</text><use href="#d" x="707"/></g>
<g id="FPGA_IO_38_P" transform="translate(0 869.3)"><use href="#H"/><text class="m" x="1088">FPGA_IO_38_P</text><text class="l" x="866" y="-7">FPGA_IO_38_P</text><use href="#d" x="707"/></g>
<g id="FPGA_IO_38_N" transform="translate(0 883.2)"><use href="#H"/><text class="m" x="1088">FPGA_IO_38_N</text><text class="l" x="866" y="-7">FPGA_IO_38_N</text><use href="#d" x="707"/></g>
<g id="FPGA_IO_36_P" transform="translate(0 897.1)"><use href="#H"/><text class="m" x="1088">FPGA_IO_36_P</text><text class="l" x="866" y="-7">FPGA_IO_36_P</text><use href="#d" x="707"/></g>
<g id="FPGA_IO_36_N" transform="translate(0 910.9)"><use href="#H"/><text class="m" x="1088">FPGA_IO_36_N</text><text class="l" x="866" y="-7">FPGA_IO_36_N</text><use href="#d" x="707"/></g>
<g id="FPGA_IO_34_P" transform="translate(0 924.8)"><use href="#H"/><text class="m" x="1088">FPGA_IO_34_P</text><text class="l" x="866" y="-7">FPGA_IO_34_P</text><use href="#d" x="707"/></g>
<g id="FPGA_IO_34_N" transform="translate(0 938.7)"><use href="#H"/><text class="m" x="1088">FPGA_IO_34_N</text><text class="l" x="866" y="-7">FPGA_IO_34_N</text><use href="#d" x="707"/></g>
<g id="FPGA_IO_32_P" transform="translate(0 952.5)"><use href="#H"/><text class="m" x="1088">FPGA_IO_32_P</text><text class="l" x="866" y="-7">FPGA_IO_32_P</text><use href="#d" x="707"/></g>
<g id="FPGA_IO_32_N" transform="translate(0 966.4)"><use href="#H"/><text class="m" x="1088">FPGA_IO_32_N</text><text class="l" x="866" y="-7">FPGA_IO_32_N</text><use href="#d" x="707"/></g>
<g id="FPGA_IO_30_P" transform="translate(0 994.1)"><use href="#H"/><text class="m" x="1088">FPGA_IO_30_P</text><text class="l" x="866" y="-7">FPGA_IO_30_P</text><use href="#d" x="707"/></g>
<g id="FPGA_IO_30_N" transform="translate(0 1008)"><use href="#H"/><text class="m" x="1088">FPGA_IO_30_N</text><text class="l" x="866" y="-7">FPGA_IO_30_N</text><use href="#d" x="707"/></g>
<g id="FPGA_IO_28_P" transform="translate(0 1021.9)"><use href="#H"/><text class="m" x="1088">FPGA_IO_28_P</text><text class="l" x="866" y="-7">FPGA_IO_28_P</text><use href="#d" x="707"/></g>
<g id="FPGA_IO_28_N" transform="translate(0 1035.7)"><use href="#H"/><text class="m" x="1088">FPGA_IO_28_N</text><text class="l" x="866" y="-7">FPGA_IO_28_N</text><use href="#d" x="707"/></g>
<g id="FPGA_IO_26_P" transform="translate(0 1049.6)"><use href="#H"/><text class="m" x="1088">FPGA_IO_26_P</text><text class="l" x="866" y="-7">FPGA_IO_26_P</text><use href="#d" x="707"/></g>
<g id="FPGA_IO_26_N" transform="translate(0 1063.5)"><use href="#H"/><text class="m" x="1088">FPGA_IO_26_N</text><text class="l" x="866" y="-7">FPGA_IO_26_N</text><use href="#d" x="707"/></g>
<g id="FPGA_IO_24_P" transform="translate(0 1077.3)"><use href="#H"/><text class="m" x="1088">FPGA_IO_24_P</text><text class="l" x="866" y="-7">FPGA_IO_24_P</text><use href="#d" x="707"/></g>
<g id="FPGA_IO_24_N" transform="translate(0 1091.2)"><use href="#H"/><text class="m" x="1088">FPGA_IO_24_N</text><text class="l" x="866" y="-7">FPGA_IO_24_N</text><use href="#d" x="707"/></g>
<g id="FPGA_IO_22_P" transform="translate(0 1105)"><use href="#H"/><text class="m" x="1088">FPGA_IO_22_P</text><text class="l" x="866" y="-7">FPGA_IO_22_P</text><use href="#d" x="707"/></g>
<g id="FPGA_IO_22_N" transform="translate(0 1118.9)"><use href="#H"/><text class="m" x="1088">FPGA_IO_22_N</text><text class="l" x="866" y="-7">FPGA_IO_22_N</text><use href="#d" x="707"/></g>
<g id="DVI_R4" transform="translate(0 1146.6)"><use href="#B"/><text class="l" x="1004.5">DVI_R4</text><text class="l" x="866" y="-7">DVI_R4</text></g>
<g id="DVI_R3" transform="translate(0 1160.5)"><use href="#B"/><text class="l" x="1004.5">DVI_R3</text><text class="l" x="866" y="-7">DVI_R3</text></g>
<g id="DVI_R2" transform="translate(0 1174.4)"><use href="#B"/><text class="l" x="1004.5">DVI_R2</text><text class="l" x="866" y="-7">DVI_R2</text></g>
<g id="DVI_R1" transform="translate(0 1188.2)"><use href="#B"/><text class="l" x="1004.5">DVI_R1</text><text class="l" x="866" y="-7">DVI_R1</text></g>
<g id="DVI_R0" transform="translate(0 1202.1)"><use href="#B"/><text class="l" x="1004.5">DVI_R0</text><text class="l" x="866" y="-7">DVI_R0</text></g>
<g id="DVI_G5" transform="translate(0 1216)"><use href="#B"/><text class="l" x="1004.5">DVI_G5</text><text class="l" x="866" y="-7">DVI_G5</text></g>
<g id="DVI_G4" transform="translate(0 1229.8)"><use href="#B"/><text class="l" x="1004.5">DVI_G4</text><text class="l" x="866" y="-7">DVI_G4</text></g>
<g id="DVI_G3" transform="translate(0 1243.7)"><use href="#B"/><text class="l" x="1004.5">DVI_G3</text><text class="l" x="866" y="-7">DVI_G3</text></g>
<g id="DVI_G2" transform="translate(0 1257.6)"><use href="#B"/><text class="l" x="1004.5">DVI_G2</text><text class="l" x="866" y="-7">DVI_G2</text></g>
<g id="DVI_G1" transform="translate(0 1271.4)"><use href="#B"/><text class="l" x="1004.5">DVI_G1</text><text class="l" x="866" y="-7">DVI_G1</text></g>
<g id="DVI_VSYNC" transform="translate(0 1299.2)"><use href="#B"/><text class="l" x="1004.5">DVI_VSYNC</text><text class="l" x="866" y="-7">DVI_VSYNC</text></g>
<g id="DVI_HSYNC" transform="translate(0 1313)"><use href="#B"/><text class="l" x="1004.5">DVI_HSYNC</text><text class="l" x="866" y="-7">DVI_HSYNC</text></g>
<g id="DVI_G0" transform="translate(0 1326.9)"><use href="#B"/><text class="l" x="1004.5">DVI_G0</text><text class="l" x="866" y="-7">DVI_G0</text></g>
<g id="DVI_CLK" transform="translate(0 1340.8)"><use href="#B"/><text class="l" x="1004.5">DVI_CLK</text><text class="l" x="866" y="-7">DVI_CLK</text></g>
<g id="DVI_B4" transform="translate(0 1354.6)"><use href="#B"/><text class="l" x="1004.5">DVI_B4</text><text class="l" x="866" y="-7">DVI_B4</text></g>
<g id="DVI_B3" transform="translate(0 1368.5)"><use href="#B"/><text class="l" x="1004.5">DVI_B3</text><text class="l" x="866" y="-7">DVI_B3</text></g>
<g id="DVI_B2" transform="translate(0 1382.3)"><use href="#B"/><text class="l" x="1004.5">DVI_B2</text><text class="l" x="866" y="-7">DVI_B2</text></g>
<g id="DVI_B1" transform="translate(0 1396.2)"><use href="#B"/><text class="l" x="1004.5">DVI_B1</text><text class="l" x="866" y="-7">DVI_B1</text></g>
<g id="DVI_B0" transform="translate(0 1410.1)"><use href="#B"/><text class="l" x="1004.5">DVI_B0</text><text class="l" x="866" y="-7">DVI_B0</text></g>
<g id="DVI_DE" transform="translate(0 1423.9)"><use href="#B"/><text class="l" x="1004.5">DVI_DE</text><text class="l" x="866" y="-7">DVI_DE</text></g>
</g>
<g id="LX16">
<path class="r" d="M704 1142.1H727.5M704 1156H727.5M704 1169.9H727.5M704 1183.7H727.5M704 1197.6H727.5M704 1211.5H727.5M704 1253.1H727.5M704 1266.9H727.5"/>
<text class="s" x="648.5" y="1146.6">LX 16 Only</text><text class="s" x="648.5" y="1160.5">LX 16 Only</text><text class="s" x="648.5" y="1174.4">LX 16 Only</text><text class="s" x="648.5" y="1188.2">LX 16 Only</text><text class="s" x="648.5" y="1202.1">LX 16 Only</text><text class="s" x="648.5" y="1216">LX 16 Only</text><text class="s" x="650" y="1257.6">LX 16 Only</text><text class="s" x="650" y="1271.4">LX 16 Only</text>
</g>
<g id="note">
<path d="M0 1298H108V1405L92 1423H0Z" fill="#ccc"/>
<path d="M0 1295.5H104.7V1405L90 1419.3H0Z" fill="#ffff80" stroke="#999"/>
<path d="M90 1419.3V1405H104.7Z" fill="#c8c8c8" stroke="#aaa"/>
<text x="8" y="1327">LVDS_33</text>
<text x="0" y="1355">/www.xilinx.com/s</text>
<text x="0" y="1368.5">rt/documentation/u</text>
<text x="0" y="1382">uides/ug381.pdf</text>
</g>
<g id="U104">
<rect x="1274" y="53.5" width="96.7" height="55" fill="#ffffb0" stroke="#8b1a1a" stroke-width="1.5"/>
<text class="n" x="1274" y="51">U104</text>
<text class="n" x="1274" y="120.5">TPS3809K33QDBVRQ1</text>
<text x="1284" y="86">VDD</text>
<text class="e" x="1361" y="72.7">GND</text>
<text class="e" x="1361" y="99.3">RESET</text>
<path d="M1323 88H1361" stroke="#222" fill="none"/>
<text x="1256" y="79">3</text><text x="1383" y="65">1</text><text x="1383" y="93">2</text>
</g>
<g id="C120">
<path d="M1214 111.7H1236.5M1214 119.3H1236.5" fill="none" stroke="#2020ff" stroke-width="1.5"/>
<text class="n" x="1237.5" y="119.5">C120</text><text class="n" x="1237.5" y="133">16V</text><text class="n" x="1237.5" y="147">0.1uF</text>
</g>
<g id="R-pullup">
<path d="M1419 17L1423 13L1416 9L1423 5L1416 1L1419 -2" fill="none" stroke="#2020ff" stroke-width="1.2"/>
<text class="n" x="1425" y="15">330</text>
</g>
<g id="GND-top"><use href="#E" transform="translate(1197.6 18.5)"/><text class="l" x="1197.6" y="43.5" style="text-anchor:middle">GND</text></g>
<g id="GND-C120"><use href="#E" transform="translate(1225.3 163.5)"/><text class="l" x="1225.3" y="189" style="text-anchor:middle">GND</text></g>
<g id="GND-U104"><use href="#E" transform="translate(1405 163.5)"/><text class="l" x="1405" y="189" style="text-anchor:middle">GND</text></g>
<g id="P33-U104"><path class="r" d="M1170 74V88.5"/><text class="m" x="1168" y="85.5">+3.3V</text></g>
<g id="RESET"><polygon class="f" points="1447,88 1552,88 1558,95 1552,102 1447,102"/><text class="m" x="1543" y="99.5">RESET#</text></g>
</svg>
